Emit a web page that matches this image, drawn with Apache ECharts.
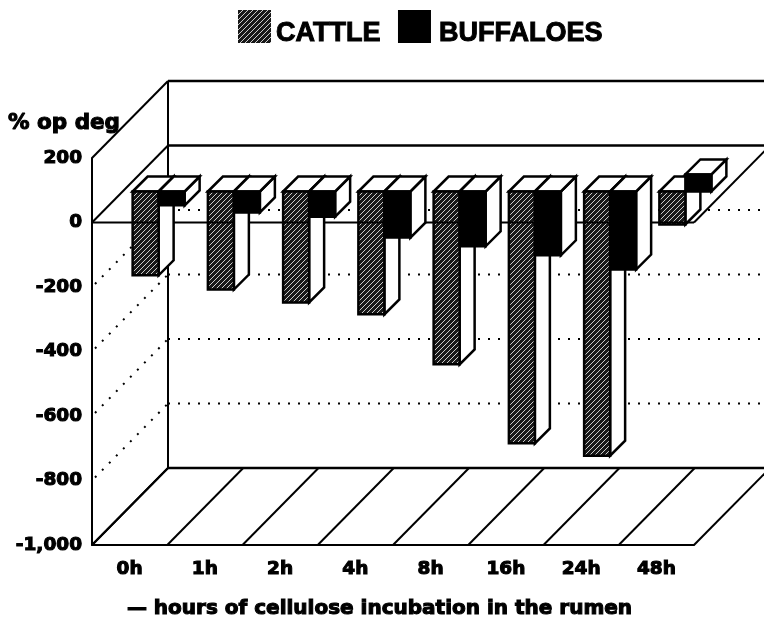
<!DOCTYPE html>
<html>
<head>
<meta charset="utf-8">
<style>html,body{margin:0;padding:0;background:#fff}#c{width:764px;height:626px}</style>
<script src="https://cdn.jsdelivr.net/npm/echarts@6/dist/echarts.min.js"></script>
</head>
<body>
<div id="c"></div>
<script>
const hours = ['0h','1h','2h','4h','8h','16h','24h','48h'];
const cattle = [-260,-304,-344,-381,-536,-781,-819,-102];
const buffaloes = [-43,-65,-78,-143,-170,-198,-242,53];
const yTicks = [200,0,-200,-400,-600,-800,-1000];
const seriesNames = ['CATTLE','BUFFALOES'];
const yTitle = '% op deg';
const xTitle = '\u2014 hours of cellulose incubation in the rumen';

// pseudo-3D projection
const WALL_DX = 76, WALL_DY = -77;
const BAR_DY = -31, SIDE = 15, BAR_W = 26;
const INK = '#000';

function hatch() {
  const c = document.createElement('canvas');
  c.width = c.height = 5;
  const g = c.getContext('2d');
  g.fillStyle = '#181818'; g.fillRect(0,0,5,5);
  g.strokeStyle = '#e0e0e0'; g.lineWidth = 0.9;
  g.beginPath();
  g.moveTo(-1,6); g.lineTo(6,-1);
  g.stroke();
  return c;
}
const hatchFill = { image: hatch(), repeat: 'repeat' };

function poly(points, fill, lw) {
  return { type:'polygon', shape:{points}, style:{fill, stroke:INK, lineWidth:lw===undefined?2.5:lw, lineJoin:'miter'} };
}
function seg(a, b, lw, dash) {
  return { type:'line', shape:{x1:a[0],y1:a[1],x2:b[0],y2:b[1]},
           style:{stroke:INK, lineWidth:lw, lineDash:dash||null, fill:null} };
}

function barRenderer(which, fill) {
  return function (params, api) {
    const i = api.value(0), v = api.value(1);
    const p0 = api.coord([i,0]), p1 = api.coord([i,v]);
    const left = p0[0] + 3 + (which === 1 ? BAR_W : 0);
    const x0 = left, x1 = left + BAR_W;
    const base = p0[1] + BAR_DY, end = p1[1] + BAR_DY;
    const top = Math.min(base,end), bot = Math.max(base,end);
    const kids = [
      poly([[x1,top],[x1+SIDE,top-SIDE],[x1+SIDE,bot-SIDE],[x1,bot]], '#fff'),
      poly([[x0,top],[x0+SIDE,top-SIDE],[x1+SIDE,top-SIDE],[x1,top]], '#fff'),
      poly([[x0,top],[x1,top],[x1,bot],[x0,bot]], fill)
    ];
    if (which === 0) kids.push(seg([x0,p0[1]],[x1,p0[1]],2));
    return { type:'group', children:kids };
  };
}

function wallRenderer(params, api) {
  const v = api.value(0);
  const a = api.coord([0,v]), band = api.size([1,0])[0];
  const L = a[0] - band/2, R = L + band*hours.length, y = a[1];
  const solid = v === 200 || v === 0 || v === -1000;
  const bl = [L+WALL_DX, y+WALL_DY], br = [R+WALL_DX, y+WALL_DY];
  const kids = [];
  if (solid) {
    kids.push(seg([L,y], bl, 2));
    kids.push(seg(bl, br, 2.4));
    if (v === 0) {
      kids.push(seg([L,y],[R,y],2));
      kids.push(seg([R,y], br, 2));
    }
    if (v === 200) {
      const bot = api.coord([0,-1000])[1];
      kids.push(seg(bl,[bl[0],bot+WALL_DY],2));
    }
  } else {
    kids.push(seg([L+3,y-3], bl, 2, [2,8]));
    kids.push(seg(bl, br, 2, [2,8]));
  }
  return { type:'group', children:kids };
}

function floorRenderer(params, api) {
  const k = api.value(0);
  const a = api.coord([0,-1000]), band = api.size([1,0])[0];
  const x = a[0] - band/2 + k*band;
  return seg([x,a[1]],[x+WALL_DX,a[1]+WALL_DY],2);
}

const chart = echarts.init(document.getElementById('c'), null, {renderer:'canvas'});
const labelFont = {
  fontFamily:'"DejaVu Sans"', fontWeight:'bold', fontSize:18.5, color:INK,
  textBorderColor:INK, textBorderWidth:1.1
};
const legendFont = {
  fontFamily:'"Liberation Sans"', fontWeight:'bold', fontSize:27, color:INK,
  textBorderColor:INK, textBorderWidth:1
};
chart.setOption({
  animation:false,
  backgroundColor:'#fff',
  legend:{
    data:seriesNames, left:233, top:5, icon:'rect', itemWidth:33, itemHeight:33, itemGap:17,
    selectedMode:false,
    formatter:n=>(n===seriesNames[0]?'{a|':'{b|')+n+'}',
    textStyle:{ rich:{
      a:Object.assign({padding:[15,0,0,0]},legendFont),
      b:Object.assign({padding:[15,0,0,3]},legendFont)
    }}
  },
  grid:{ left:92, right:70, top:158, bottom:81, outerBoundsMode:'none' },
  xAxis:{
    type:'category', data:hours, boundaryGap:true,
    axisTick:{show:false},
    axisLine:{onZero:false, lineStyle:{color:INK,width:2}},
    axisLabel:Object.assign({margin:15, interval:0}, labelFont),
    name:xTitle, nameLocation:'center', nameGap:54,
    nameTextStyle:Object.assign({}, labelFont, {fontSize:20, padding:[0,27,0,0]})
  },
  yAxis:{
    type:'value', min:-1000, max:200, interval:200,
    splitLine:{show:false}, axisTick:{show:false},
    axisLine:{show:true, lineStyle:{color:INK,width:2}},
    axisLabel:Object.assign({margin:10, formatter:v=>v.toLocaleString('en-US')}, labelFont),
    name:yTitle, nameLocation:'end', nameGap:24,
    nameTextStyle:Object.assign({}, labelFont, {fontSize:21.5, align:'right', padding:[0,-28,0,0]})
  },
  series:[
    { type:'custom', name:'walls', z:1, silent:true, encode:{x:-1,y:0}, clip:false,
      data:yTicks.map(v=>[v]), renderItem:wallRenderer },
    { type:'custom', name:'floor', z:1, silent:true, encode:{x:0,y:-1}, clip:false,
      data:hours.map((_,i)=>[i]).concat([[hours.length]]), renderItem:floorRenderer },
    { type:'custom', name:seriesNames[0], z:3, clip:false, encode:{x:0,y:1},
      itemStyle:{color:hatchFill},
      data:cattle.map((v,i)=>[i,v]), renderItem:barRenderer(0,hatchFill) },
    { type:'custom', name:seriesNames[1], z:4, clip:false, encode:{x:0,y:1},
      itemStyle:{color:INK},
      data:buffaloes.map((v,i)=>[i,v]), renderItem:barRenderer(1,INK) }
  ]
});
</script>
</body>
</html>
